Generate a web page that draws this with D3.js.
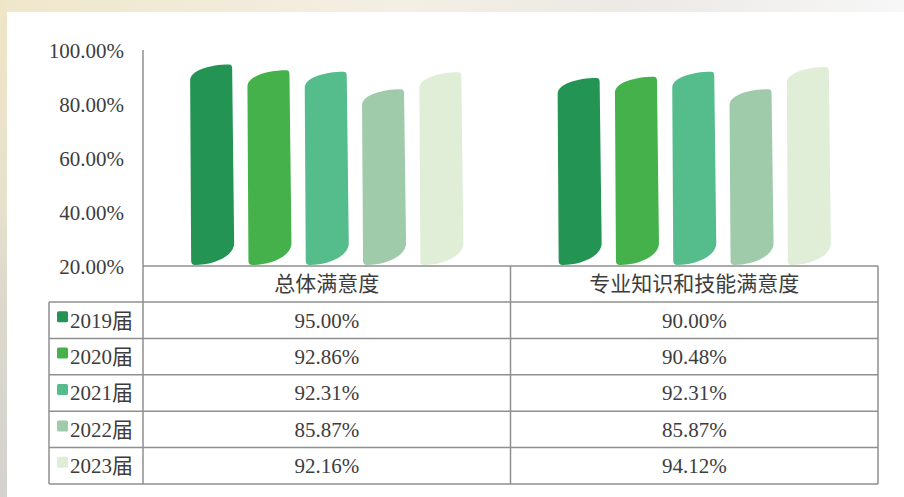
<!DOCTYPE html>
<html>
<head>
<meta charset="utf-8">
<script src="https://cdn.jsdelivr.net/npm/d3@7"></script>
<style>
  html, body { margin: 0; padding: 0; background: #fff; }
  svg { display: block; }
  svg text { font-family: "Liberation Serif", "Times New Roman", "DejaVu Serif", "Noto Sans CJK SC", serif; fill: #3d3d3d; }
</style>
</head>
<body>
<svg id="chart" width="904" height="497"></svg>
<script>
// categories and series
const categories = ['总体满意度', '专业知识和技能满意度'];
const years = ['2019届', '2020届', '2021届', '2022届', '2023届'];
const values2019 = [95.00, 90.00];
const values2020 = [92.86, 90.48];
const values2021 = [92.31, 92.31];
const values2022 = [85.87, 85.87];
const values2023 = [92.16, 94.12];
const yTicks = [20, 40, 60, 80, 100];
const colors = ['#239454', '#44b14a', '#55bc8c', '#9fcbaa', '#e0eed8'];

const series = [values2019, values2020, values2021, values2022, values2023];

const svg = d3.select('#chart');
const W = 904, H = 497;
const serif = '"Liberation Serif", "Times New Roman", "DejaVu Serif", "Noto Sans CJK SC", serif';

// blurry photo background peeking out at top and left
const defs = svg.append('defs');
const gTop = defs.append('linearGradient').attr('id', 'bgTop');
gTop.append('stop').attr('offset', '0%').attr('stop-color', '#efe7cb');
gTop.append('stop').attr('offset', '45%').attr('stop-color', '#f3efe4');
gTop.append('stop').attr('offset', '70%').attr('stop-color', '#ece9e6');
gTop.append('stop').attr('offset', '100%').attr('stop-color', '#f7f7f7');
const gLeft = defs.append('linearGradient').attr('id', 'bgLeft')
    .attr('x1', 0).attr('y1', 0).attr('x2', 0).attr('y2', 1);
gLeft.append('stop').attr('offset', '0%').attr('stop-color', '#efe6c6');
gLeft.append('stop').attr('offset', '40%').attr('stop-color', '#e7e1cc');
gLeft.append('stop').attr('offset', '60%').attr('stop-color', '#dcd8cc');
gLeft.append('stop').attr('offset', '100%').attr('stop-color', '#d3d2cf');

svg.append('rect').attr('width', W).attr('height', H).attr('fill', '#fff');
svg.append('rect').attr('x', 0).attr('y', 0).attr('width', W).attr('height', 12).attr('fill', 'url(#bgTop)');
svg.append('rect').attr('x', 0).attr('y', 0).attr('width', 7).attr('height', H).attr('fill', 'url(#bgLeft)');

// layout
const axisX = 143, tableRight = 878;
const baseY = 266;
const headerBottom = 302, rowH = 36.4;

const y = d3.scaleLinear().domain([20, 100]).range([267, 51]);
const x0 = d3.scaleBand().domain(categories).range([axisX, tableRight]).padding(0);
const x1 = d3.scaleBand().domain(years).range([-143.25, 143.25]).paddingInner(0.232).paddingOuter(0.116);
const color = d3.scaleOrdinal().domain(years).range(colors);

// y tick labels
svg.append('g').selectAll('text')
  .data(yTicks)
  .join('text')
    .attr('x', 124)
    .attr('y', d => y(d))
    .attr('dy', '0.35em')
    .attr('text-anchor', 'end')
    .attr('font-family', serif)
    .attr('font-size', 21)
    .text(d => d3.format('.2f')(d) + '%');

// leaf-like bar shape
function barPath(xl, w, top, bottom) {
  const xr = xl + w;
  const p = d3.path();
  p.moveTo(xl, top + 16);
  p.bezierCurveTo(xl, top + 6, xl + w * 0.45, top, xr - 5, top);
  p.quadraticCurveTo(xr - 2, top, xr - 2, top + 4);
  p.lineTo(xr, bottom - 22);
  p.bezierCurveTo(xr, bottom - 8, xl + w * 0.5, bottom, xl + 5, bottom);
  p.quadraticCurveTo(xl + 1, bottom, xl + 1, bottom - 4);
  p.closePath();
  return p.toString();
}

const groups = svg.append('g').selectAll('g')
  .data(categories)
  .join('g')
    .attr('transform', d => `translate(${x0(d) + x0.bandwidth() / 2},0)`);

groups.selectAll('path')
  .data((c, ci) => years.map((yr, i) => ({ year: yr, value: series[i][ci] })))
  .join('path')
    .attr('d', d => barPath(x1(d.year), x1.bandwidth(), y(d.value), baseY - 1))
    .attr('fill', d => color(d.year));

// axis lines / table grid
const lineColor = '#8f8f8f';
const grid = svg.append('g').attr('stroke', lineColor).attr('stroke-width', 1.5).attr('fill', 'none');
const tableBottom = headerBottom + rowH * years.length;
grid.append('line').attr('x1', axisX).attr('x2', axisX).attr('y1', 50).attr('y2', tableBottom);
grid.append('line').attr('x1', axisX).attr('x2', tableRight).attr('y1', baseY).attr('y2', baseY);
grid.append('line').attr('x1', tableRight).attr('x2', tableRight).attr('y1', baseY).attr('y2', tableBottom);
grid.append('line').attr('x1', x0(categories[1])).attr('x2', x0(categories[1])).attr('y1', baseY).attr('y2', tableBottom);
grid.append('line').attr('x1', 49).attr('x2', 49).attr('y1', headerBottom).attr('y2', tableBottom);
grid.selectAll('.rowline')
  .data(d3.range(years.length + 1))
  .join('line')
    .attr('x1', 49).attr('x2', tableRight)
    .attr('y1', i => headerBottom + i * rowH)
    .attr('y2', i => headerBottom + i * rowH);

// header
svg.append('g').selectAll('text')
  .data(categories)
  .join('text')
    .attr('x', d => x0(d) + x0.bandwidth() / 2)
    .attr('y', (baseY + headerBottom) / 2)
    .attr('dy', '0.35em')
    .attr('text-anchor', 'middle')
    .attr('font-family', serif)
    .attr('font-size', 21)
    .text(d => d);

// legend column + value cells
const rows = svg.append('g').selectAll('g')
  .data(years)
  .join('g')
    .attr('transform', (d, i) => `translate(0,${headerBottom + i * rowH + rowH / 2})`);

rows.append('rect')
  .attr('x', 57).attr('y', -9).attr('width', 11).attr('height', 11).attr('rx', 1.5)
  .attr('fill', d => color(d));

rows.append('text')
  .attr('x', 70)
  .attr('dy', '0.35em')
  .attr('font-family', serif)
  .attr('font-size', 21)
  .text(d => d);

rows.selectAll('.val')
  .data((yr, i) => categories.map((c, ci) => ({ cat: c, value: series[i][ci] })))
  .join('text')
    .attr('class', 'val')
    .attr('x', d => x0(d.cat) + x0.bandwidth() / 2)
    .attr('dy', '0.35em')
    .attr('text-anchor', 'middle')
    .attr('font-family', serif)
    .attr('font-size', 21)
    .text(d => d3.format('.2f')(d.value) + '%');
</script>
</body>
</html>
